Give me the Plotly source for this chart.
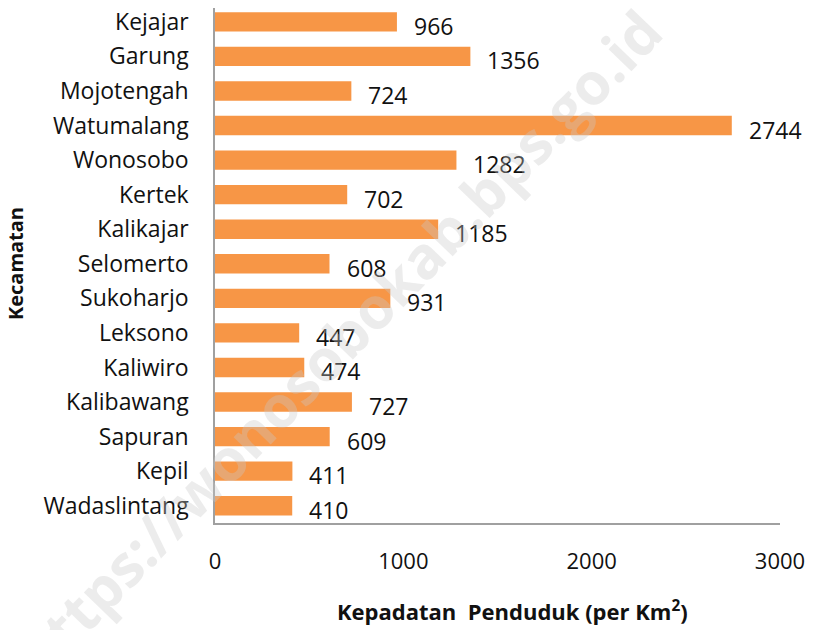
import plotly.graph_objects as go

kecamatan = ["Kejajar", "Garung", "Mojotengah", "Watumalang", "Wonosobo",
             "Kertek", "Kalikajar", "Selomerto", "Sukoharjo", "Leksono",
             "Kaliwiro", "Kalibawang", "Sapuran", "Kepil", "Wadaslintang"]
kepadatan = [966, 1356, 724, 2744, 1282, 702, 1185, 608, 931, 447,
             474, 727, 609, 411, 410]
x_ticks = [0, 1000, 2000, 3000]

font_name = "Open Sans, sans-serif"

fig = go.Figure()

fig.add_trace(
    go.Bar(
        x=kepadatan,
        y=kecamatan,
        orientation="h",
        marker=dict(color="#F79646", line=dict(width=0)),
        showlegend=False
    )
)

# data labels, offset to the right of each bar
for name, val in zip(kecamatan, kepadatan):
    fig.add_annotation(
        x=val, y=name, text=str(val),
        xanchor="left", yanchor="middle",
        xshift=15, yshift=-4, showarrow=False,
        font=dict(family=font_name, size=23, color="#111111")
    )

# axis titles
fig.add_annotation(
    x=0.527, y=-0.169, xref="paper", yref="paper",
    text="<b>Kepadatan  Penduduk (per Km<sup>2</sup>)</b>",
    showarrow=False, xanchor="center", yanchor="middle",
    font=dict(family=font_name, size=22, color="#111111")
)
fig.add_annotation(
    x=-0.352, y=0.503, xref="paper", yref="paper",
    text="<b>Kecamatan</b>", textangle=-90,
    showarrow=False, xanchor="center", yanchor="middle",
    font=dict(family=font_name, size=20, color="#111111")
)

# watermark
fig.add_annotation(
    x=0.218, y=0.35, xref="paper", yref="paper",
    text="<b>https://wonosobokab.bps.go.id</b>",
    textangle=-46, showarrow=False,
    xanchor="center", yanchor="middle",
    font=dict(family=font_name, size=58, color="rgba(200,200,200,0.35)")
)

fig.update_layout(
    width=813,
    height=630,
    margin=dict(l=207, r=41, t=0, b=115),
    plot_bgcolor="white",
    paper_bgcolor="white",
    bargap=0.44,
    font=dict(family=font_name, size=22, color="#111111"),
    xaxis=dict(
        range=[0, 3000],
        tickvals=x_ticks,
        showgrid=False,
        zeroline=False,
        showline=True,
        linecolor="#a0a0a0",
        linewidth=1.5,
        ticks="",
        ticklabelstandoff=18,
        tickfont=dict(size=22),
        automargin=False
    ),
    yaxis=dict(
        categoryorder="array",
        categoryarray=kecamatan[::-1],
        range=[-0.5, 14.4],
        showgrid=False,
        showline=True,
        linecolor="#a0a0a0",
        linewidth=1.5,
        ticks="",
        ticklabelstandoff=20,
        tickfont=dict(size=23),
        automargin=False
    )
)

fig.write_html("out.html")
